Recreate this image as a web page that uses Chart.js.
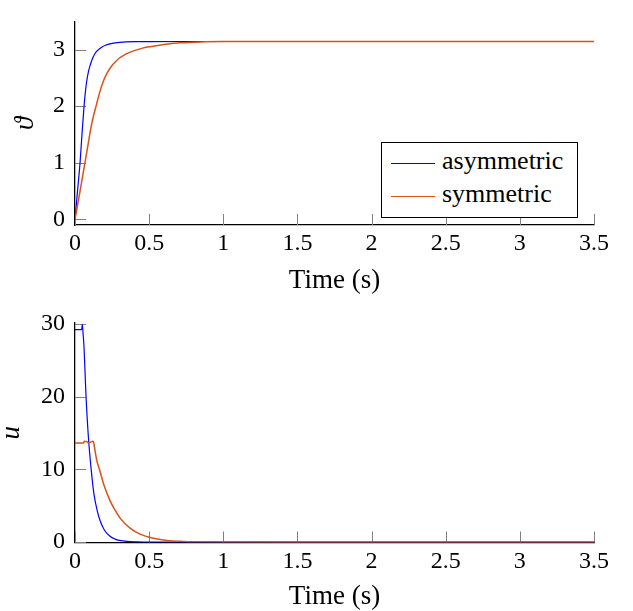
<!DOCTYPE html>
<html>
<head>
<meta charset="utf-8">
<script src="https://cdn.jsdelivr.net/npm/chart.js@4.4.1/dist/chart.umd.min.js"></script>
<style>
  body { margin: 0; background: #fff; }
  #page { position: relative; width: 633px; height: 611px; }
  .box { position: absolute; left: 0; width: 633px; }
  #topBox { top: 0; height: 300px; }
  #botBox { top: 300px; height: 311px; }
  #legend { position: absolute; left: 381px; top: 142px; width: 195px; height: 74px;
            border: 1px solid #000; background: #fff;
            font: 26px "Liberation Serif", "Times New Roman", "DejaVu Serif", serif; }
  .swatch { position: absolute; left: 9px; width: 44px; height: 0; border-top: 1.3px solid; }
  .lab { position: absolute; left: 60px; line-height: 30px; white-space: nowrap; }
</style>
</head>
<body>
<div id="page">
  <div class="box" id="topBox"><canvas id="thetaChart"></canvas></div>
  <div class="box" id="botBox"><canvas id="uChart"></canvas></div>
  <div id="legend">
    <div class="swatch" style="top:20px;border-color:#0000ff"></div>
    <div class="lab" style="top:3px">asymmetric</div>
    <div class="swatch" style="top:53px;border-color:rgb(217,83,25)"></div>
    <div class="lab" style="top:36px">symmetric</div>
  </div>
</div>
<script>
// series names
const seriesNames = ["asymmetric", "symmetric"];

// angle, asymmetric
const thetaAsymT = [0, 0.017, 0.034, 0.047, 0.061, 0.07, 0.079, 0.09, 0.101, 0.118, 0.135, 0.155, 0.18, 0.205, 0.236, 0.27, 0.303, 0.35, 0.4, 0.5, 0.7, 3.5];
const thetaAsymV = [0, 0.5, 1.0, 1.5, 2.0, 2.25, 2.44, 2.6, 2.71, 2.84, 2.93, 2.99, 3.04, 3.075, 3.1, 3.117, 3.127, 3.134, 3.138, 3.14, 3.1415, 3.1416];

// angle, symmetric
const thetaSymT = [0, 0.034, 0.067, 0.09, 0.106, 0.125, 0.142, 0.165, 0.191, 0.22, 0.247, 0.275, 0.3, 0.33, 0.36, 0.4, 0.45, 0.506, 0.6, 0.708, 0.85, 1.0, 1.5, 3.5];
const thetaSymV = [0, 0.5, 1.0, 1.35, 1.6, 1.83, 2.0, 2.23, 2.44, 2.6, 2.71, 2.79, 2.85, 2.9, 2.94, 2.98, 3.02, 3.05, 3.09, 3.118, 3.135, 3.14, 3.1416, 3.1416];

// input, asymmetric
const uAsymT = [0, 0.045, 0.049, 0.055, 0.061, 0.068, 0.074, 0.09, 0.109, 0.128, 0.15, 0.17, 0.2, 0.236, 0.27, 0.3, 0.35, 0.42, 0.5, 1.0, 2.0, 3.5];
const uAsymV = [29.2, 29.2, 29.9, 28.5, 26.7, 23.2, 20.2, 14.5, 10.0, 6.6, 4.3, 2.9, 1.6, 0.8, 0.42, 0.24, 0.1, 0.04, 0.01, 0, 0, 0];

// input, symmetric
const uSymT = [0, 0.058, 0.062, 0.08, 0.09, 0.1, 0.124, 0.13, 0.146, 0.169, 0.191, 0.236, 0.27, 0.304, 0.371, 0.439, 0.506, 0.62, 0.73, 0.84, 1.0, 1.5, 2.0, 3.5];
const uSymV = [13.6, 13.6, 13.85, 13.8, 13.6, 13.7, 13.85, 13.2, 11.3, 9.7, 8.1, 5.7, 4.4, 3.3, 1.93, 1.1, 0.63, 0.24, 0.1, 0.05, 0.02, 0, 0, 0];

// ticks
const timeTicks = [0, 0.5, 1, 1.5, 2, 2.5, 3, 3.5];
const thetaTicks = [0, 1, 2, 3];
const uTicks = [0, 10, 20, 30];

const BLUE = "#0000ff";
const ORANGE = "rgb(217,83,25)";

Chart.defaults.font.family = "'Liberation Serif', 'Times New Roman', 'DejaVu Serif', serif";
Chart.defaults.color = "#000";

// pgfplots style ticks: short marks pointing into the plot
const innerTicks = {
    id: "innerTicks",
    beforeDatasetsDraw(chart)
    {
        const ctx = chart.ctx;
        const xs = chart.scales.x;
        const ys = chart.scales.y;
        const len = 11;
        ctx.save();
        ctx.strokeStyle = "#808080";
        ctx.lineWidth = 1;
        ctx.beginPath();
        for (const t of xs.ticks)
        {
            const px = Math.round(xs.getPixelForValue(t.value)) + 0.5;
            ctx.moveTo(px, ys.bottom);
            ctx.lineTo(px, ys.bottom - len);
        }
        for (const t of ys.ticks)
        {
            const py = Math.round(ys.getPixelForValue(t.value)) + 0.5;
            ctx.moveTo(xs.left, py);
            ctx.lineTo(xs.left + len, py);
        }
        ctx.stroke();
        ctx.restore();
    }
};

function pts(ts, vs)
{
    return ts.map((t, i) => ({ x: t, y: vs[i] }));
}

function makeChart(id, setA, setB, yMin, yMax, yTicks, yTitle, yTitlePad, padTop, xAxisH, xTitlePad)
{
    const line = (name, data, color, width, order) => ({
        label: name,
        data: data,
        borderColor: color,
        backgroundColor: color,
        borderWidth: width,
        pointRadius: 0,
        fill: false,
        cubicInterpolationMode: "monotone",
        order: order
    });

    return new Chart(document.getElementById(id),
    {
        type: "line",
        data:
        {
            datasets:
            [
                line(seriesNames[0], setA, BLUE, 1.2, 1),
                line(seriesNames[1], setB, ORANGE, 1.5, 0)
            ]
        },
        options:
        {
            responsive: true,
            maintainAspectRatio: false,
            animation: false,
            layout: { padding: { left: 0, right: 39, top: padTop, bottom: 0 } },
            plugins: { legend: { display: false }, tooltip: { enabled: false } },
            scales:
            {
                x:
                {
                    type: "linear",
                    min: 0,
                    max: 3.5,
                    afterBuildTicks: s => { s.ticks = timeTicks.map(v => ({ value: v })); },
                    afterFit: s => { s.height = xAxisH; },
                    grid: { display: false, drawTicks: false },
                    border: { display: true, color: "#000", width: 1.3 },
                    ticks: { font: { size: 24, lineHeight: 1 }, padding: 7, maxRotation: 0,
                             callback: v => String(v) },
                    title: { display: true, text: "Time (s)", font: { size: 27, lineHeight: 1 },
                             padding: { top: 0, bottom: xTitlePad } }
                },
                y:
                {
                    type: "linear",
                    min: yMin,
                    max: yMax,
                    afterBuildTicks: s => { s.ticks = yTicks.map(v => ({ value: v })); },
                    afterFit: s => { s.width = 75; },
                    grid: { display: false, drawTicks: false },
                    border: { display: true, color: "#000", width: 1.3 },
                    ticks: { font: { size: 24, lineHeight: 1 }, padding: 10,
                             callback: v => String(v) },
                    title: { display: true, text: yTitle, font: { size: 27, style: "italic", lineHeight: 1 },
                             padding: { top: yTitlePad, bottom: 0 } }
                }
            }
        },
        plugins: [innerTicks]
    });
}

makeChart("thetaChart", pts(thetaAsymT, thetaAsymV), pts(thetaSymT, thetaSymV),
          -0.098, 3.486, thetaTicks, "\u03d1", 12.5, 6, 75, 5.5);

makeChart("uChart", pts(uAsymT, uAsymV), pts(uSymT, uSymV),
          -0.05, 30.1, uTicks, "u", -1.5, 23, 68.5, 0.5);
</script>
</body>
</html>
